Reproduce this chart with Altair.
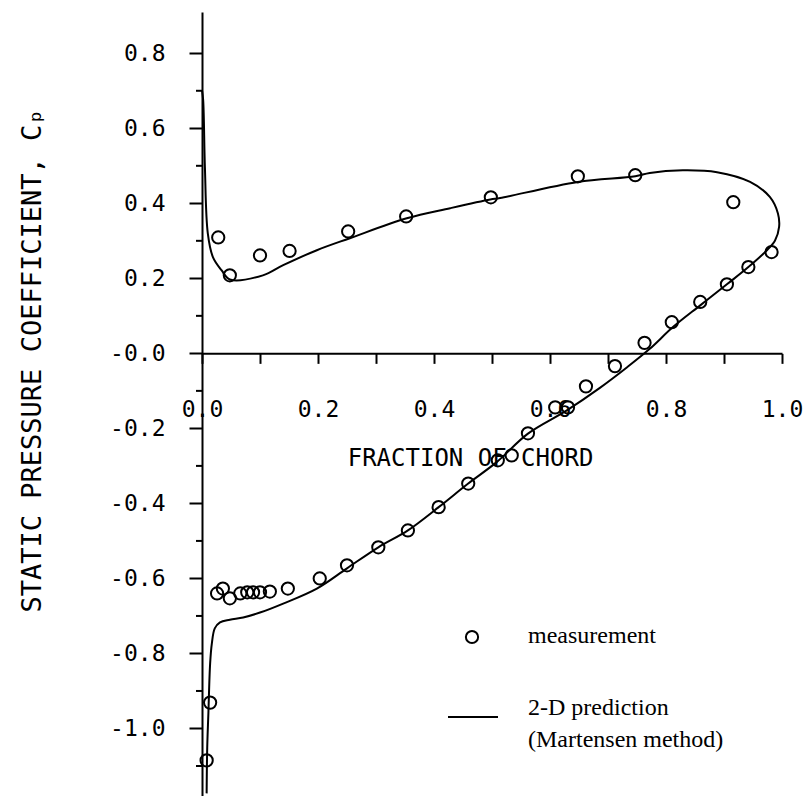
import altair as alt
import pandas as pd

# ---- measurement points (fraction of chord, Cp) ----
meas_x = [0.028, 0.048, 0.100, 0.151, 0.252, 0.352, 0.498, 0.648, 0.747, 0.916, 0.982,
          0.942, 0.905, 0.859, 0.810, 0.763, 0.712, 0.662, 0.631, 0.609, 0.562, 0.534,
          0.510, 0.459, 0.408, 0.355, 0.304, 0.250, 0.203, 0.148, 0.117, 0.100, 0.088,
          0.078, 0.066, 0.048, 0.036, 0.026, 0.014, 0.008]
meas_y = [0.309, 0.208, 0.261, 0.273, 0.325, 0.365, 0.416, 0.472, 0.475, 0.403, 0.270,
          0.230, 0.184, 0.137, 0.083, 0.028, -0.034, -0.088, -0.144, -0.144, -0.213, -0.272,
          -0.285, -0.347, -0.410, -0.472, -0.517, -0.565, -0.600, -0.627, -0.635, -0.637, -0.637,
          -0.637, -0.640, -0.653, -0.627, -0.640, -0.931, -1.085]

# ---- 2-D prediction curve (Martensen method), in drawing order ----
pred_x = [0.000, 0.002, 0.005, 0.010, 0.019, 0.034, 0.048, 0.105, 0.140, 0.198, 0.255,
          0.353, 0.428, 0.497, 0.514, 0.648, 0.747, 0.772, 0.829, 0.888, 0.945, 0.979,
          0.993, 0.995, 0.988, 0.974, 0.942, 0.905, 0.859, 0.812, 0.772, 0.733, 0.686,
          0.629, 0.562, 0.508, 0.459, 0.408, 0.355, 0.304, 0.250, 0.198, 0.140, 0.100,
          0.071, 0.048, 0.031, 0.022, 0.017, 0.014, 0.011, 0.009, 0.008]
pred_y = [0.701, 0.675, 0.496, 0.320, 0.256, 0.221, 0.197, 0.208, 0.235, 0.275, 0.307,
          0.360, 0.387, 0.410, 0.414, 0.457, 0.472, 0.481, 0.488, 0.483, 0.457, 0.417,
          0.373, 0.337, 0.301, 0.275, 0.230, 0.184, 0.128, 0.070, 0.012, -0.037, -0.092,
          -0.152, -0.214, -0.290, -0.347, -0.410, -0.472, -0.517, -0.573, -0.627, -0.667, -0.691,
          -0.704, -0.710, -0.717, -0.733, -0.773, -0.827, -0.960, -1.051, -1.173]

y_major = [-1.0, -0.8, -0.6, -0.4, -0.2, 0.0, 0.2, 0.4, 0.6, 0.8]
y_minor = [-1.1, -0.9, -0.7, -0.5, -0.3, -0.1, 0.1, 0.3, 0.5, 0.7]
x_ticks = [0.0, 0.1, 0.2, 0.3, 0.4, 0.5, 0.6, 0.7, 0.8, 0.9, 1.0]

x_title = "FRACTION OF CHORD"
y_title = "STATIC PRESSURE COEFFICIENT, C\u209a"
legend_labels = ["measurement", "2-D prediction", "(Martensen method)"]

# ---- layout ----
W, H = 580, 784
X_DOM = [0.0, 1.0]
Y_DOM = [-1.18, 0.91]
zero_px = (Y_DOM[1] - 0.0) / (Y_DOM[1] - Y_DOM[0]) * H

PLOT_FONT = "DejaVu Sans Mono"
LEG_FONT = "Liberation Serif"

xs = alt.Scale(domain=X_DOM, nice=False, zero=False)
ys = alt.Scale(domain=Y_DOM, nice=False, zero=False)

xaxis = alt.Axis(
    orient="bottom", offset=zero_px - H, values=x_ticks,
    tickSize=10, tickWidth=2, tickColor="black",
    domainColor="black", domainWidth=2,
    labelExpr="round(datum.value*10) % 2 == 0 ? format(datum.value, '.1f') : ''",
    labelFont=PLOT_FONT, labelFontSize=23, labelColor="black", labelPadding=35,
    labelFlush=False, labelOverlap=False, labelBound=False,
    title=x_title, titleFont=PLOT_FONT, titleFontSize=24, titleFontWeight="normal",
    titleColor="black", titleX=268, titleY=105, titleAlign="center", titleBaseline="middle",
    grid=False,
)
yaxis = alt.Axis(
    orient="left", values=y_major,
    tickSize=13, tickWidth=2, tickColor="black",
    domainColor="black", domainWidth=2,
    labelExpr="(datum.value <= 0 ? '-' : '') + format(abs(datum.value), '.1f')",
    labelFont=PLOT_FONT, labelFontSize=23, labelColor="black", labelPadding=24,
    labelFlush=False, labelOverlap=False, labelBound=False,
    title=y_title, titleFont=PLOT_FONT, titleFontSize=27, titleFontWeight="normal",
    titleColor="black", titleAngle=270, titleX=-170, titleY=348,
    titleAlign="center", titleBaseline="middle",
    grid=False,
)

pred_df = pd.DataFrame({"x": pred_x, "y": pred_y, "i": list(range(len(pred_x)))})
meas_df = pd.DataFrame({"x": meas_x, "y": meas_y})
minor_df = pd.DataFrame({"v": y_minor})

line = alt.Chart(pred_df).mark_line(
    color="black", strokeWidth=2, interpolate="catmull-rom"
).encode(
    x=alt.X("x:Q", scale=xs, axis=xaxis),
    y=alt.Y("y:Q", scale=ys, axis=yaxis),
    order=alt.Order("i:Q"),
)

points = alt.Chart(meas_df).mark_point(
    shape="circle", filled=False, size=150, strokeWidth=2, color="black", opacity=1
).encode(
    x=alt.X("x:Q", scale=xs, axis=xaxis),
    y=alt.Y("y:Q", scale=ys, axis=yaxis),
)

minor = alt.Chart(minor_df).mark_rule(color="black", strokeWidth=2).encode(
    y=alt.Y("v:Q", scale=ys, axis=yaxis),
    x=alt.value(-6),
    x2=alt.value(0),
)

leg_df = pd.DataFrame({"label": legend_labels})

leg_circle = alt.Chart(leg_df).transform_filter(alt.datum.label == legend_labels[0]).mark_point(
    shape="circle", filled=False, size=150, strokeWidth=2, color="black", opacity=1
).encode(x=alt.value(270), y=alt.value(625))

leg_t1 = alt.Chart(leg_df).transform_filter(alt.datum.label == legend_labels[0]).mark_text(
    align="left", baseline="middle", font=LEG_FONT, fontSize=24, color="black"
).encode(x=alt.value(326), y=alt.value(624), text="label:N")

leg_line = alt.Chart(leg_df).transform_filter(alt.datum.label == legend_labels[1]).mark_rule(
    color="black", strokeWidth=2
).encode(x=alt.value(246), x2=alt.value(296), y=alt.value(705))

leg_t2 = alt.Chart(leg_df).transform_filter(alt.datum.label == legend_labels[1]).mark_text(
    align="left", baseline="middle", font=LEG_FONT, fontSize=24, color="black"
).encode(x=alt.value(326), y=alt.value(696), text="label:N")

leg_t3 = alt.Chart(leg_df).transform_filter(alt.datum.label == legend_labels[2]).mark_text(
    align="left", baseline="middle", font=LEG_FONT, fontSize=24, color="black"
).encode(x=alt.value(326), y=alt.value(728), text="label:N")

chart = alt.layer(minor, line, points, leg_circle, leg_t1, leg_line, leg_t2, leg_t3).properties(
    width=W, height=H,
    padding={"left": 202, "top": 12, "right": 30, "bottom": 0},
    autosize="none",
    background="white",
).configure_view(stroke=None)

chart.save("out.html", embed_options={"renderer": "svg", "actions": False})
